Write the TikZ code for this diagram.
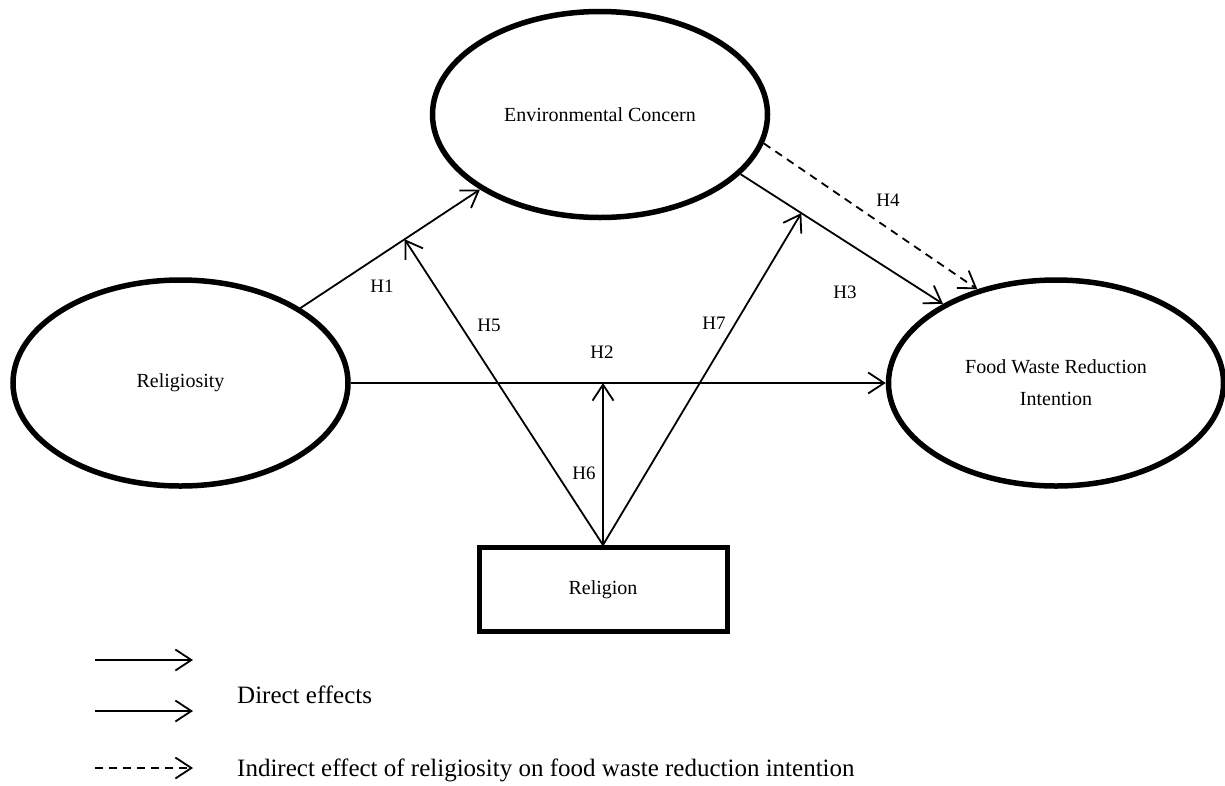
\documentclass[tikz,border=0pt]{standalone}
\usepackage{fontspec}
\setmainfont{Liberation Serif}
\usetikzlibrary{arrows.meta,shapes.geometric,calc}
\begin{document}
\begin{tikzpicture}[x=1pt,y=-1pt,
  latent/.style={ellipse,draw,line width=5.5pt,minimum width=335pt,minimum height=206pt,inner sep=0pt,font=\fontsize{20}{32}\selectfont,align=center},
  obs/.style={rectangle,draw,line width=5pt,minimum width=248pt,minimum height=84pt,inner sep=0pt,font=\fontsize{20}{24}\selectfont},
  effect/.style={line width=1.8pt,-{Straight Barb[length=16pt,width=21pt,line width=1.8pt]}},
  indirect/.style={effect,dash pattern=on 8pt off 6pt},
  hyp/.style={font=\fontsize{19}{22}\selectfont,inner sep=0pt},
  legtext/.style={font=\fontsize{25}{30}\selectfont,anchor=base west,inner sep=0pt}]
\useasboundingbox (0,0) rectangle (1225,785);
% constructs
\node[latent] (ec) at (600,114.5) {Environmental Concern};
\node[latent] (rel) at (180.5,383) {Religiosity};
\node[latent] (fw) at (1056,383) {Food Waste Reduction\\Intention};
\node[obs] (rg) at (603,589.5) {Religion};
% direct paths
\draw[effect] (rel.32) -- (ec.212);
\draw[effect] (rel.east) -- (fw.west);
\draw[effect] (ec.-23) -- (fw.145);
\draw[indirect] (ec.-10) -- (fw.130);
% moderation targets
\coordinate (m1) at ($(rel.32)!0.58!(ec.212)$);
\coordinate (m3) at ($(ec.-23)!0.3!(fw.145)$);
\coordinate (m2) at ($(rel.east)!(rg.north)!(fw.west)$);
\draw[effect] (rg.north) -- (m1);
\draw[effect] (rg.north) -- (m2);
\draw[effect] (rg.north) -- (m3);
% hypothesis labels
\node[hyp] (h1) at (382,286) {H1};
\node[hyp] (h2) at (602,352) {H2};
\node[hyp] (h3) at (845,292) {H3};
\node[hyp] (h4) at (888,200) {H4};
\node[hyp] (h5) at (489,325) {H5};
\node[hyp] (h6) at (584,473) {H6};
\node[hyp] (h7) at (714,323) {H7};
% legend
\coordinate (a1s) at (95,660); \coordinate (a1e) at (193,660);
\coordinate (a2s) at (95,711); \coordinate (a2e) at (193,711);
\coordinate (a3s) at (95,768); \coordinate (a3e) at (193,768);
\draw[effect] (a1s) -- (a1e);
\draw[effect] (a2s) -- (a2e);
\draw[indirect] (a3s) -- (a3e);
\node[legtext] (t1) at (237,703) {Direct effects};
\node[legtext] (t2) at (237,776) {Indirect effect of religiosity on food waste reduction intention};
\end{tikzpicture}
\end{document}
